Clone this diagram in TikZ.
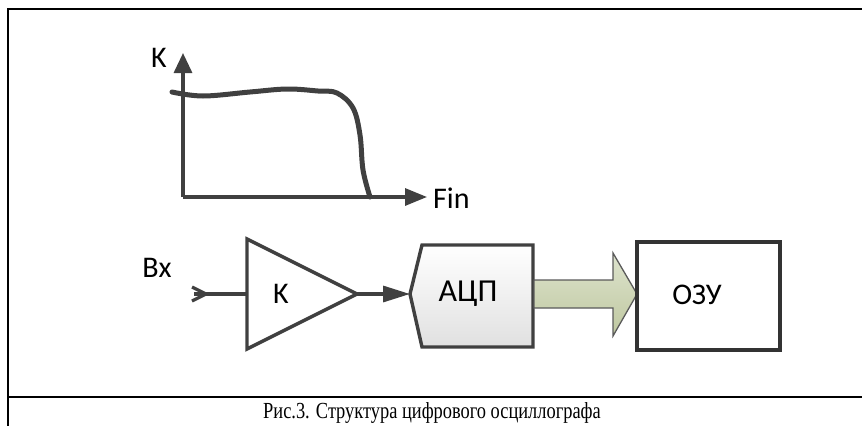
\documentclass[tikz,border=0pt]{standalone}
\usepackage{fontspec}
\usepackage{graphicx}
\setmainfont{Liberation Serif}
\newfontfamily\labelfont{Carlito}
\usetikzlibrary{arrows.meta}
\definecolor{ink}{HTML}{404040}
\definecolor{boxink}{HTML}{333333}
\definecolor{busTop}{HTML}{DDE3CD}
\definecolor{busBot}{HTML}{BFC8A0}
\definecolor{busEdge}{HTML}{5A5A5A}
\begin{document}
\begin{tikzpicture}[x=1pt,y=-1pt,
  frame/.style={line width=2.4pt, black},
  axisline/.style={line width=3.2pt, ink},
  response/.style={line width=5pt, ink, line cap=round},
  wire/.style={line width=3.2pt, ink},
  blockline/.style={line width=3.4pt, ink, line join=miter},
  lbl/.style={font=\labelfont\fontsize{30}{36}\selectfont, inner sep=0pt, text=black},
  biglbl/.style={font=\labelfont\fontsize{32}{38}\selectfont, inner sep=0pt, text=black},
  captionlbl/.style={font=\fontsize{23}{27}\selectfont, inner sep=0pt, text=black}
]
\useasboundingbox (0,0) rectangle (862,426);

% outer frame and caption separator
\draw[frame] (862,9) -- (8,9) -- (8,426);
\draw[frame] (8,397) -- (862,397);

% frequency response graph
\coordinate (origin) at (183,197);
\coordinate (ytip) at (183,53);
\coordinate (xtip) at (427,197);
\draw[axisline, -{Triangle[length=20pt,width=18pt]}] (origin) -- (ytip);
\draw[axisline, -{Triangle[length=22pt,width=17pt]}] (origin) -- (xtip);
\node[lbl] (klabel) at (159,58) {K};
\node[lbl, anchor=west] (finlabel) at (433,198) {Fin};
\draw[response] plot[smooth, tension=0.6] coordinates
  {(172,92) (203,96) (250,92) (287,89) (318,91) (337,93) (353,108) (360,135) (363,170) (370,197)};

% input and amplifier
\coordinate (input) at (194,294);
\coordinate (ampin) at (247,294);
\coordinate (ampout) at (357,294);
\node[lbl] (inlabel) at (157,268) {Вх};
\draw[wire, line join=miter] (192,287) -- (206,294) -- (192,301);
\draw[wire] (input) -- (ampin);
\draw[blockline] (247,239) -- (ampout) -- (247,349) -- cycle;
\node[lbl] (amplabel) at (281,294) {K};

% analog-to-digital converter
\coordinate (adcin) at (410,294);
\coordinate (adcout) at (533,294);
\shade[top color=white, bottom color=black!12]
  (adcin) -- (422,245) -- (533,245) -- (533,347) -- (422,347) -- cycle;
\draw[blockline] (adcin) -- (422,245) -- (533,245) -- (533,347) -- (422,347) -- cycle;
\node[biglbl] (adclabel) at (468,294) {АЦП};
\draw[wire, -{Triangle[length=27pt,width=16pt]}] (ampout) -- (adcin);

% data bus to memory
\coordinate (ramin) at (637,294);
\shade[top color=busTop, bottom color=busBot, draw=busEdge, line width=1.3pt, line join=miter]
  (534,280) -- (613,280) -- (613,253) -- (ramin) -- (613,336) -- (613,308) -- (534,308) -- cycle;

% memory block
\draw[line width=3.6pt, boxink] (637,242) rectangle (780,350);
\node[lbl] (ramlabel) at (697,295) {ОЗУ};

% caption
\node[captionlbl] (caption) at (432,413) {\scalebox{0.8}[1]{Рис.3. Структура цифрового осциллографа}};
\end{tikzpicture}
\end{document}
